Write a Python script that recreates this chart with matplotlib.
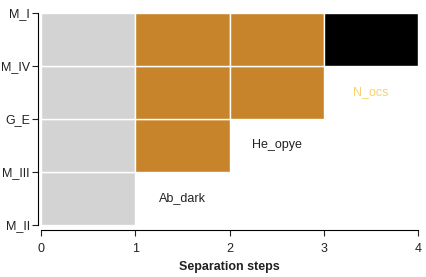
import matplotlib
matplotlib.use("Agg")
import matplotlib.pyplot as plt
from matplotlib import font_manager

# categories bottom -> top on the y axis
categories = ["M_II", "M_III", "G_E", "M_IV", "M_I"]
steps = [0, 1, 2, 3, 4]
# each column starts at this category index and runs up to the top
col_start = [0, 1, 2, 3]
col_colors = ["#d3d3d3", "#c8842a", "#c8842a", "#000000"]
labels = ["Ab_dark", "He_opye", "N_ocs"]
label_x = [1.5, 2.5, 3.5]
label_y = [0.5, 1.5, 2.5]
label_colors = ["#222222", "#222222", "#f7d36e"]

names = {f.name for f in font_manager.fontManager.ttflist}
fam = 'Liberation Sans Narrow' if 'Liberation Sans Narrow' in names else 'Liberation Sans'
plt.rcParams['font.family'] = [fam, 'DejaVu Sans']
fs = 10 if fam.endswith('Narrow') else 9

fig = plt.figure(figsize=(4.27, 2.77), dpi=100)
ax = fig.add_axes([0.096, 0.188, 0.883, 0.765])

top = len(categories) - 1
for i, (s, c) in enumerate(zip(col_start, col_colors)):
    for y in range(s, top):
        ax.bar(i, 1, bottom=y, width=1, align='edge', color=c,
               edgecolor='white', linewidth=1)

for t, x, y, c in zip(labels, label_x, label_y, label_colors):
    ax.text(x, y, t, ha='center', va='center', fontsize=fs, color=c)

ax.set_xlim(0, 4)
ax.set_ylim(0, top)
ax.set_xticks(steps)
ax.set_yticks(range(len(categories)))
ax.set_yticklabels(categories)
ax.tick_params(labelsize=fs, length=4, pad=2, color='#222222', labelcolor='#222222')
ax.tick_params(axis='x', pad=5)
ax.set_xlabel("Separation steps", fontsize=fs, fontweight='bold', color='#222222', labelpad=4)
for s in ['top', 'right']:
    ax.spines[s].set_visible(False)
ax.spines['left'].set_position(('outward', 2))
ax.spines['bottom'].set_position(('outward', 4))
fig.savefig("out.png", dpi=100)
